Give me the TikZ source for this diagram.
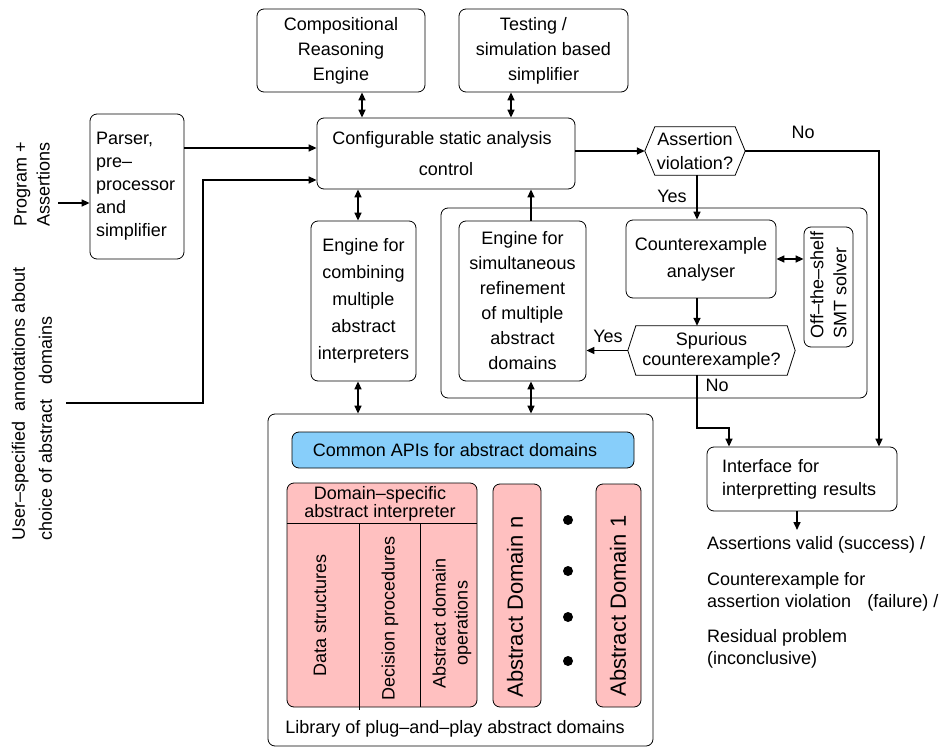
\documentclass[tikz,border=0pt]{standalone}
\usepackage{fontspec}
\setmainfont{Liberation Sans}
\usetikzlibrary{arrows.meta}
\definecolor{apiblue}{RGB}{135,206,250}
\definecolor{dompink}{RGB}{255,192,192}
\tikzset{
  box/.style={draw, rounded corners=7pt, line width=0.8pt, inner sep=0pt, align=center},
  pinkbox/.style={box, fill=dompink},
  txt/.style={inner sep=0pt},
  tip/.tip={Triangle[length=8pt,width=7pt]},
  wire/.style={line width=1.5pt, -tip},
  dwire/.style={line width=1.5pt, tip-tip},
  hexline/.style={line width=0.8pt},
}
\newcommand{\lsk}[1]{\fontsize{18}{#1}\selectfont}
\begin{document}
\begin{tikzpicture}[x=1pt, y=-1pt, font=\lsk{23}]
\useasboundingbox (0,0) rectangle (942,749);

% inputs
\node[txt, rotate=90, align=left] (prog) at (32,184) {Program +\\Assertions};
\coordinate (progin) at (58,203);
\node[txt, rotate=90, align=left, font=\lsk{27}] (user) at (32,404)
  {User--specified\ \ annotations about\\choice of abstract\ \ \ domains};
\coordinate (userin) at (66,403);

% front end and control
\node[box, minimum width=94pt, minimum height=145pt, text width=82pt, align=left] (parser) at (137,186.5)
  {Parser,\\pre--\\processor\\and\\simplifier};
\node[box, minimum width=168pt, minimum height=83pt, font=\lsk{25}] (comp) at (341,50.5)
  {Compositional\\Reasoning\\Engine};
\node[box, minimum width=169pt, minimum height=83pt, font=\lsk{25}] (test) at (543.5,50.5)
  {Testing /\hspace*{20pt}\\simulation based\\simplifier};
\node[box, minimum width=258pt, minimum height=71pt, font=\lsk{31}] (ctrl) at (446,153.5)
  {Configurable static analysis\hspace*{8pt}\\control};

% assertion check
\node[txt, minimum width=100pt, minimum height=48pt, align=center, font=\lsk{24}] (asrt) at (695,151)
  {Assertion\\violation?};
\draw[hexline] (asrt.west) -- ([xshift=10pt]asrt.north west) -- ([xshift=-10pt]asrt.north east)
  -- (asrt.east) -- ([xshift=-10pt]asrt.south east) -- ([xshift=10pt]asrt.south west) -- cycle;

% refinement loop
\node[box, minimum width=426pt, minimum height=190pt] (loop) at (654,303) {};
\node[box, minimum width=105pt, minimum height=160pt, font=\lsk{27}] (comb) at (363.5,301)
  {Engine for\\combining\\multiple\\abstract\\interpreters};
\node[box, minimum width=127pt, minimum height=160pt, font=\lsk{25}] (refine) at (522.5,301)
  {Engine for\\simultaneous\\refinement\\of multiple\\abstract\\domains};
\node[box, minimum width=150pt, minimum height=78pt, font=\lsk{27}] (cex) at (701,259)
  {Counterexample\\analyser};
\node[box, minimum width=49pt, minimum height=120pt] (smt) at (828.5,287) {};
\node[txt, rotate=90, align=left] (smtlbl) at (828.5,285) {Off--the--shelf\\SMT solver};
\node[txt, minimum width=167pt, minimum height=49pt, align=center, font=\lsk{20}] (spur) at (711.5,350.5)
  {Spurious\\counterexample?};
\draw[hexline] (spur.west) -- ([xshift=8pt]spur.north west) -- ([xshift=-8pt]spur.north east)
  -- (spur.east) -- ([xshift=-8pt]spur.south east) -- ([xshift=8pt]spur.south west) -- cycle;

% results
\node[box, minimum width=190pt, minimum height=64pt, text width=160pt, align=left] (iface) at (802,479)
  {Interface for\\interpretting results};
\coordinate (outpt) at (797,530);
\node[txt, anchor=west] (r1) at (707,545) {Assertions valid (success) /};
\node[txt, anchor=north west, align=left, font=\lsk{22}] (r2) at (707,572)
  {Counterexample for\\assertion violation\hspace{0.9em}(failure) /};
\node[txt, anchor=north west, align=left, font=\lsk{22}] (r3) at (707,629)
  {Residual problem\\(inconclusive)};

% library of abstract domains
\node[box, minimum width=385pt, minimum height=332pt] (lib) at (460.5,580) {};
\node[box, fill=apiblue, minimum width=342pt, minimum height=36pt] (api) at (463,450)
  {Common APIs for abstract domains\hspace*{16pt}};
\node[pinkbox, minimum width=190pt, minimum height=224pt] (dsi) at (382,595) {};
\node[txt, align=center, font=\lsk{18}] (dsihead) at (380,504) {Domain--specific\\abstract interpreter};
\draw[line width=0.8pt] (dsi.west |- 0,523) -- (dsi.east |- 0,523);
\draw[line width=0.8pt] (359,523) -- (359,710);
\draw[line width=0.8pt] (420,523) -- (420,707);
\node[txt, rotate=90] (datastr) at (320,615) {Data structures};
\node[txt, rotate=90] (decproc) at (390,618) {Decision procedures};
\node[txt, rotate=90, align=center, font=\lsk{22}] (adops) at (452,623) {Abstract domain\\operations};
\node[pinkbox, minimum width=48pt, minimum height=223pt] (domn) at (517,595.5) {};
\node[txt, rotate=90, font=\fontsize{22}{26}\selectfont] (domnlbl) at (515,607) {Abstract Domain n};
\node[pinkbox, minimum width=45pt, minimum height=223pt] (dom1) at (618.5,595.5) {};
\node[txt, rotate=90, font=\fontsize{22}{26}\selectfont] (dom1lbl) at (618,606) {Abstract Domain 1};
\foreach \yy [count=\k] in {520,571,617,661}
  \fill (568,\yy) circle[radius=5pt] node[txt] (dot\k) {};
\node[txt] (liblbl) at (455,729) {Library of plug--and--play abstract domains};

% connectors
\draw[wire] (progin) -- (progin -| parser.west);
\draw[wire] (parser.east |- 0,148) -- (ctrl.west |- 0,148);
\draw[wire] (userin) -- (203,403) -- (203,180) -- (ctrl.west |- 0,180);
\draw[dwire] (comp.south -| 362,0) -- (ctrl.north -| 362,0);
\draw[dwire] (test.south -| 511,0) -- (ctrl.north -| 511,0);
\draw[wire] (ctrl.east |- asrt.west) -- (asrt.west);
\draw[wire] (asrt.east) -- (879,151) -- (iface.north -| 879,0);
\node[txt] (nolbl1) at (803,132) {No};
\draw[wire] (asrt.south -| 697,0) -- (cex.north -| 697,0);
\node[txt] (yeslbl1) at (672,196) {Yes};
\draw[dwire] (comb.north -| 358,0) -- (ctrl.south -| 358,0);
\draw[wire] (refine.north -| 531,0) -- (ctrl.south -| 531,0);
\draw[dwire] (cex.east) -- (smt.west |- cex.east);
\draw[wire] (cex.south -| 697,0) -- (spur.north -| 697,0);
\draw[wire] (spur.west) -- (refine.east |- spur.west);
\node[txt] (yeslbl2) at (608,336) {Yes};
\draw[wire] (spur.south -| 697,0) -- (697,428) -- (729,428) -- (iface.north -| 729,0);
\node[txt] (nolbl2) at (717,385) {No};
\draw[wire] (iface.south -| 797,0) -- (outpt);
\draw[dwire] (comb.south -| 358,0) -- (lib.north -| 358,0);
\draw[dwire] (refine.south -| 531,0) -- (lib.north -| 531,0);
\end{tikzpicture}
\end{document}
